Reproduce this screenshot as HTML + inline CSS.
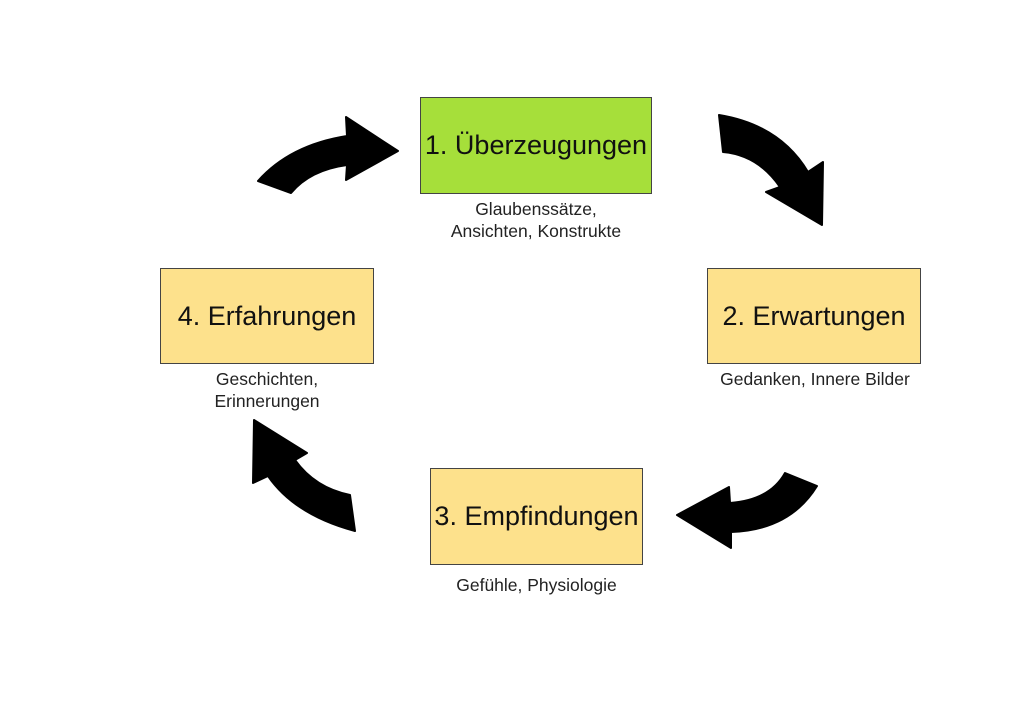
<!DOCTYPE html>
<html><head><meta charset="utf-8"><style>
html,body{margin:0;padding:0;background:#fff;}
body{width:1024px;height:724px;position:relative;overflow:hidden;font-family:"Liberation Sans",sans-serif;}
.b{position:absolute;box-sizing:border-box;border:1.5px solid #444;display:flex;align-items:center;justify-content:center;font-size:27px;color:#111;}
.y{background:#fde18c;}
.g{background:#a6df3a;}
.t{position:absolute;font-size:17.5px;color:#222;text-align:center;line-height:22px;}
svg{position:absolute;left:0;top:0;}
</style></head><body>
<svg width="1024" height="724" viewBox="0 0 1024 724">
<g fill="#000" stroke="#000" stroke-width="2" stroke-linejoin="round">
<path d="M258,181 Q290,145 347,136 L346,117 L398,151 L346,180 L347,165 Q310,170 291,193 Z"/>
<path d="M719,115 Q780,125 808,172 L823,162 L822,225 L766,192 L780,187 Q758,155 723,152 Z"/>
<path d="M817,486 Q790,530 731,532 L731,548 L677,515 L729,487 L730,503 Q770,500 785,473 Z"/>
<path d="M355,531 Q295,515 268,476 L253,483 L254,420 L307,453 L295,460 Q315,488 350,495 Z"/>
</g>
</svg>
<div class="b g" style="left:420px;top:97px;width:232px;height:97px;">1. Überzeugungen</div>
<div class="t" style="left:400px;top:198px;width:272px;">Glaubenssätze,<br>Ansichten, Konstrukte</div>
<div class="b y" style="left:707px;top:268px;width:214px;height:96px;">2. Erwartungen</div>
<div class="t" style="left:680px;top:368px;width:270px;">Gedanken, Innere Bilder</div>
<div class="b y" style="left:430px;top:468px;width:213px;height:97px;">3. Empfindungen</div>
<div class="t" style="left:400px;top:574px;width:273px;">Gefühle, Physiologie</div>
<div class="b y" style="left:160px;top:268px;width:214px;height:96px;">4. Erfahrungen</div>
<div class="t" style="left:150px;top:368px;width:234px;">Geschichten,<br>Erinnerungen</div>
</body></html>
